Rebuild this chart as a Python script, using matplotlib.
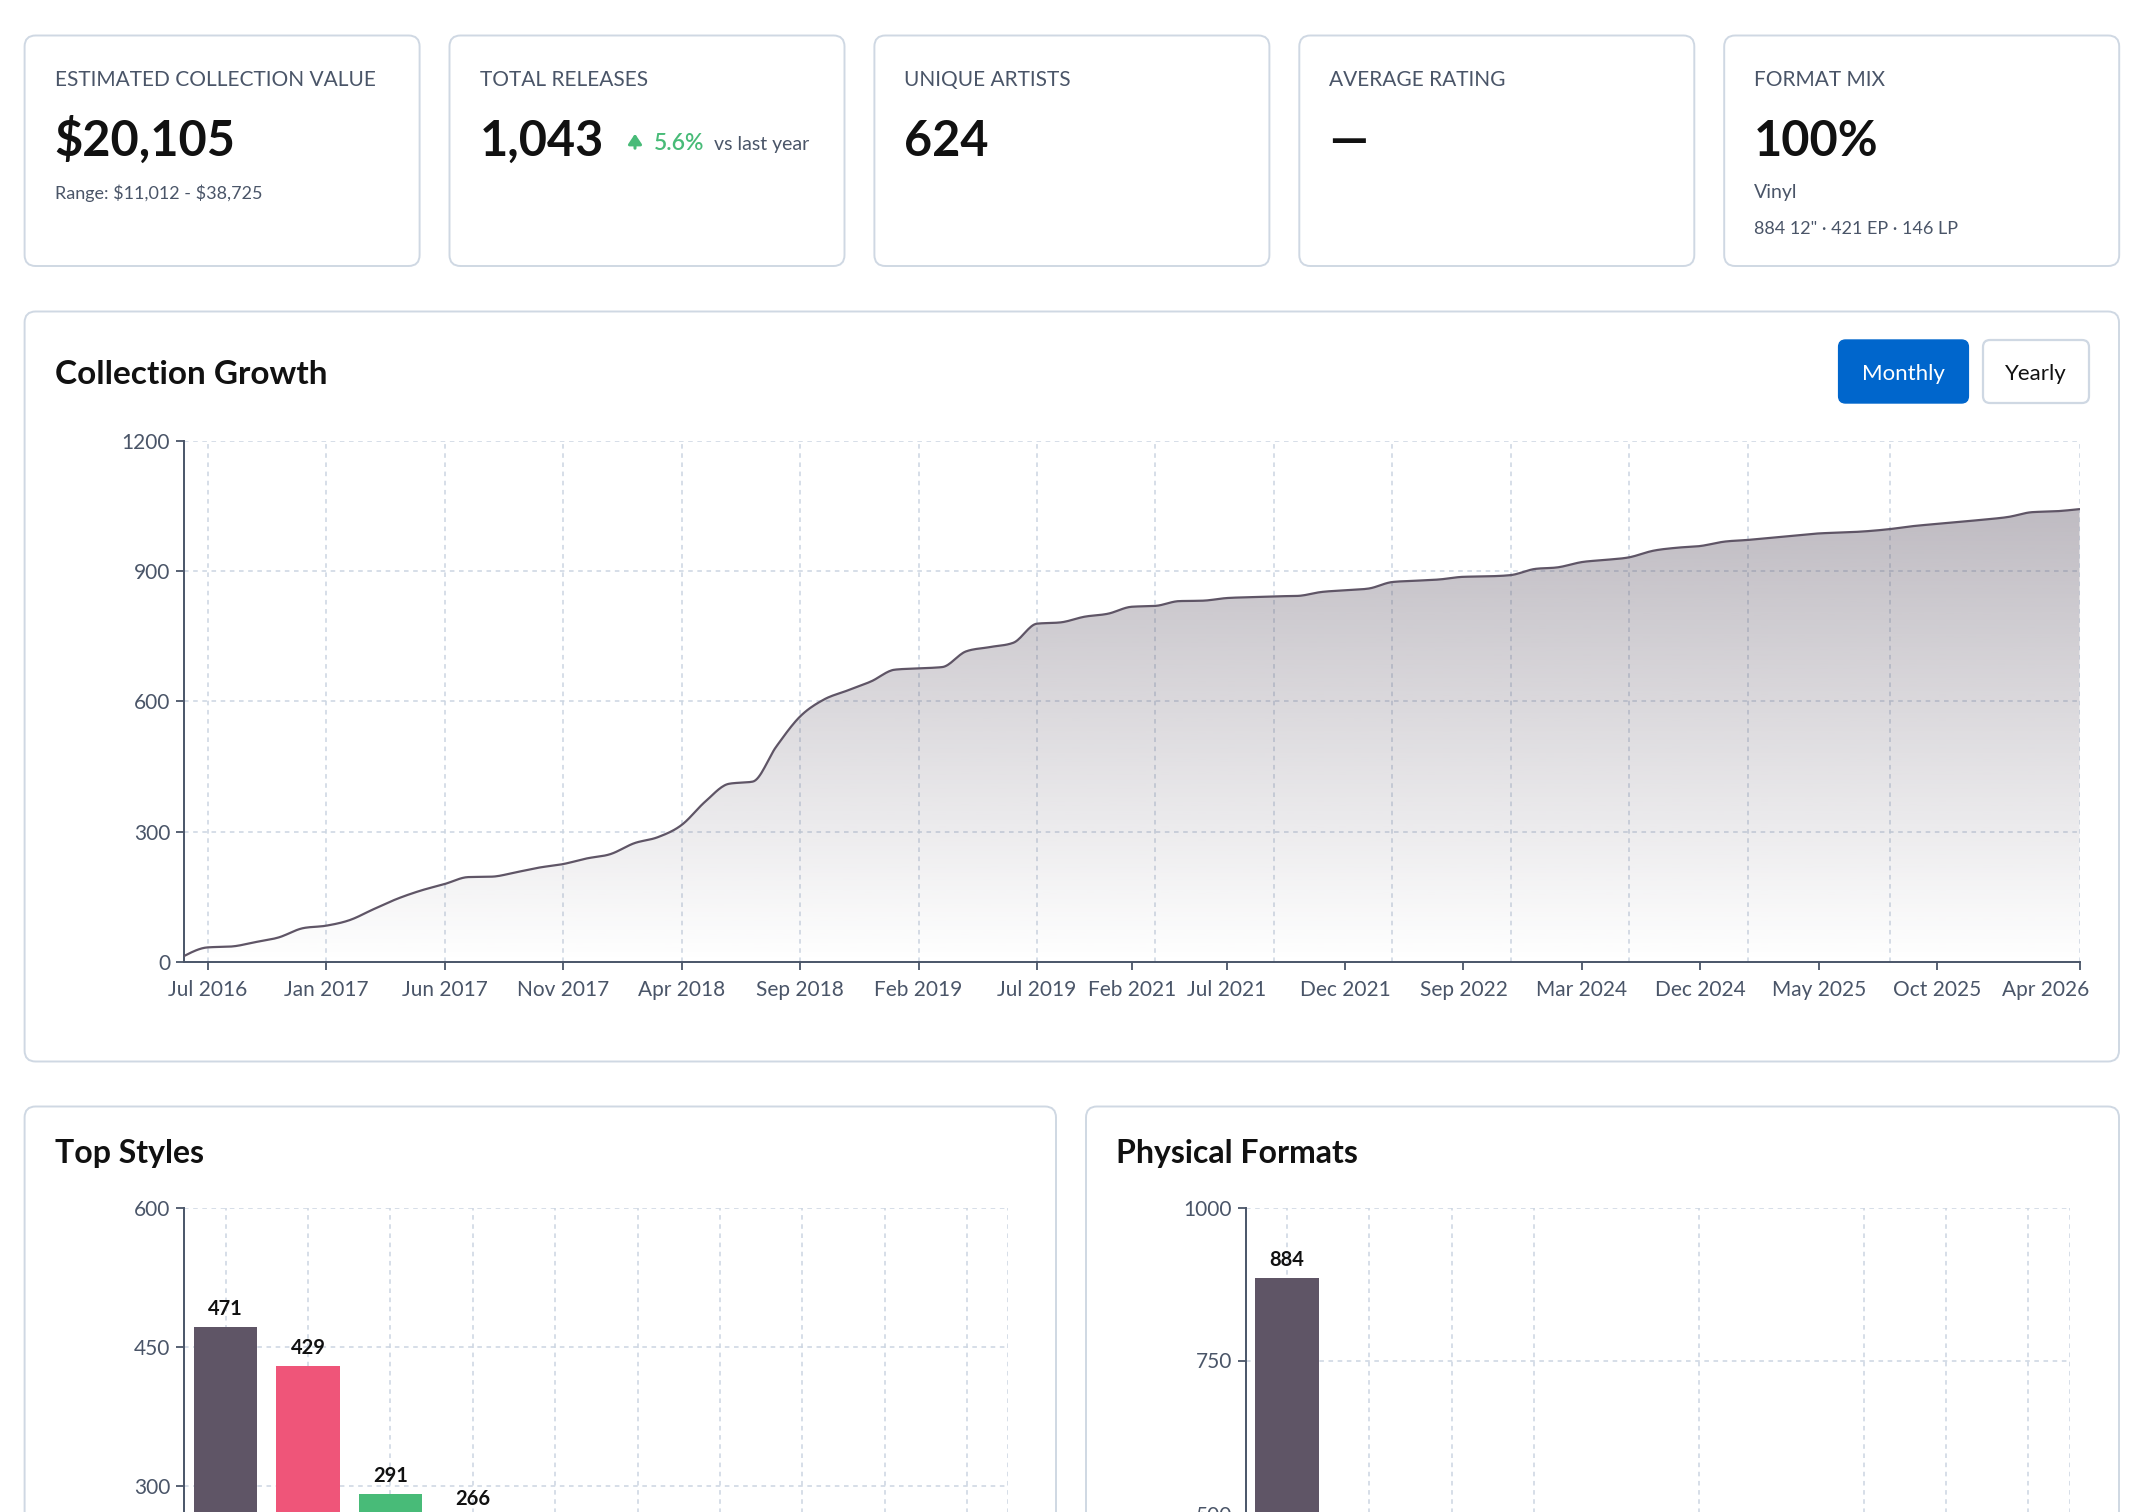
import numpy as np
import matplotlib
matplotlib.use("Agg")
import matplotlib.pyplot as plt
from matplotlib.patches import FancyBboxPatch, Polygon
from matplotlib.transforms import ScaledTranslation

plt.rcParams["font.family"] = ["Lato", "DejaVu Sans"]

W, H = 2142, 1512

# ---- data ----
months = [
    "Jun 2016", "Jul 2016", "Aug 2016", "Sep 2016", "Oct 2016", "Nov 2016",
    "Jan 2017", "Feb 2017", "Mar 2017", "Apr 2017", "May 2017", "Jun 2017",
    "Jul 2017", "Aug 2017", "Sep 2017", "Oct 2017", "Nov 2017", "Dec 2017",
    "Jan 2018", "Feb 2018", "Mar 2018", "Apr 2018", "May 2018", "Jun 2018",
    "Jul 2018", "Aug 2018", "Sep 2018", "Oct 2018", "Nov 2018", "Dec 2018",
    "Jan 2019", "Feb 2019", "Mar 2019", "Apr 2019", "May 2019", "Jun 2019",
    "Jul 2019", "Oct 2019", "Mar 2020", "Sep 2020",
    "Feb 2021", "Mar 2021", "Apr 2021", "May 2021", "Jul 2021", "Aug 2021",
    "Sep 2021", "Oct 2021", "Nov 2021", "Dec 2021",
    "Jan 2022", "Mar 2022", "May 2022", "Jul 2022", "Sep 2022",
    "Nov 2022", "Apr 2023", "Aug 2023", "Dec 2023", "Mar 2024",
    "Apr 2024", "Jun 2024", "Aug 2024", "Oct 2024", "Dec 2024",
    "Jan 2025", "Feb 2025", "Mar 2025", "Apr 2025", "May 2025",
    "Jun 2025", "Jul 2025", "Aug 2025", "Sep 2025", "Oct 2025",
    "Nov 2025", "Dec 2025", "Jan 2026", "Feb 2026", "Mar 2026", "Apr 2026",
]
total_releases = [
    13, 33, 35, 45, 56, 77, 83, 96, 121, 145, 164, 179, 195, 196, 206, 217, 225, 238, 248, 273, 287,
    315, 369, 410, 415, 496, 565, 604, 625, 646, 673, 676, 679, 715, 725, 735, 779, 782, 795, 802,
    818, 820, 831, 832, 838, 840, 842, 843, 852, 856, 860, 875, 878, 881, 887, 888, 891, 905, 909, 921,
    926, 932, 947, 954, 958, 968, 972, 977, 982, 987, 989, 992, 997, 1004, 1009, 1014, 1019, 1025,
    1036, 1038, 1043,
]
tick_months = ["Jul 2016", "Jan 2017", "Jun 2017", "Nov 2017", "Apr 2018", "Sep 2018",
               "Feb 2019", "Jul 2019", "Feb 2021", "Jul 2021", "Dec 2021", "Sep 2022",
               "Mar 2024", "Dec 2024", "May 2025", "Oct 2025", "Apr 2026"]
grid_months = ["Jul 2016", "Jan 2017", "Jun 2017", "Nov 2017", "Apr 2018", "Sep 2018",
               "Feb 2019", "Jul 2019", "Mar 2021", "Sep 2021", "Mar 2022", "Apr 2023",
               "Jun 2024", "Feb 2025", "Aug 2025", "Apr 2026"]

style_counts = [471, 429, 291, 266]
style_colors = ["#5f5566", "#ef5579", "#48bb78", "#f6ad55"]
n_style_slots = 10

format_names = ['12"']
format_counts = [884]
n_format_slots = 10

kpis = [
    ("ESTIMATED COLLECTION VALUE", r"\$20,105"),
    ("TOTAL RELEASES", "1,043"),
    ("UNIQUE ARTISTS", "624"),
    ("AVERAGE RATING", "\u2014"),
    ("FORMAT MIX", "100%"),
]

# ---- colors ----
LINE = "#5f5566"
GRID = "#cbd5e1"
AXIS = "#4a5568"
LABEL = "#4a5568"
DARK = "#111111"
GREEN = "#48bb78"
BORDER = "#cfd8e3"


def px_axes(fig, x0, y0, x1, y1):
    return fig.add_axes([x0 / W, 1 - y1 / H, (x1 - x0) / W, (y1 - y0) / H])


def card(ax, x0, y0, x1, y1):
    ax.add_patch(FancyBboxPatch((x0, y0), x1 - x0, y1 - y0,
                                boxstyle="round,pad=0,rounding_size=11",
                                fc="white", ec=BORDER, lw=1.4, zorder=1))


def monotone(y, n=16):
    # cubic hermite with monotone tangents (like d3 curveMonotoneX)
    y = np.asarray(y, float)
    d = np.diff(y)
    t = np.zeros_like(y)
    for i in range(1, len(y) - 1):
        s0, s1 = d[i - 1], d[i]
        p = (s0 + s1) / 2
        t[i] = (np.sign(s0) + np.sign(s1)) * min(abs(s0), abs(s1), 0.5 * abs(p))
    t[0] = (3 * d[0] - t[1]) / 2
    t[-1] = (3 * d[-1] - t[-2]) / 2
    xs, ys = [], []
    u = np.linspace(0, 1, n, endpoint=False)
    for i in range(len(y) - 1):
        h00 = 2 * u**3 - 3 * u**2 + 1
        h10 = u**3 - 2 * u**2 + u
        h01 = -2 * u**3 + 3 * u**2
        h11 = u**3 - u**2
        xs.append(i + u)
        ys.append(h00 * y[i] + h10 * t[i] + h01 * y[i + 1] + h11 * t[i + 1])
    xs.append([len(y) - 1])
    ys.append([y[-1]])
    return np.concatenate(xs), np.concatenate(ys)


def style_axis(ax):
    for s in ["top", "right"]:
        ax.spines[s].set_visible(False)
    for s in ["left", "bottom"]:
        ax.spines[s].set_color(AXIS)
        ax.spines[s].set_linewidth(1.4)
    ax.set_facecolor("none")
    ax.tick_params(colors=AXIS, labelcolor=LABEL, labelsize=15, length=6, width=1.3, pad=4)


fig = plt.figure(figsize=(W / 100, H / 100), dpi=100)
fig.patch.set_facecolor("white")

bg = fig.add_axes([0, 0, 1, 1], zorder=0)
bg.set_xlim(0, W)
bg.set_ylim(H, 0)
bg.axis("off")

# ---- KPI cards ----
card_w, card_gap = 395, 29.9
for k, (label, value) in enumerate(kpis):
    x0 = 24.6 + k * (card_w + card_gap)
    card(bg, x0, 35.5, x0 + card_w, 266)
    bg.text(x0 + 30, 86, label, fontsize=15, color=LABEL, va="baseline")
    bg.text(x0 + 30, 156, value, fontsize=35, fontweight="bold", color=DARK, va="baseline")

bg.text(54.6, 199.5, r"Range: \$11,012 - \$38,725", fontsize=13, color=LABEL, va="baseline")
bg.annotate("", xy=(635, 131), xytext=(635, 151),
            arrowprops=dict(arrowstyle="-|>,head_width=0.4,head_length=0.6", color=GREEN, lw=2.2))
bg.text(654, 150, "5.6%", fontsize=16.5, fontweight="semibold", color=GREEN, va="baseline")
bg.text(714, 150, "vs last year", fontsize=14, color=LABEL, va="baseline")
bg.text(1754, 198, "Vinyl", fontsize=14, color=LABEL, va="baseline")
bg.text(1754, 233.5, "884 12\" \u00b7 421 EP \u00b7 146 LP", fontsize=13, color=LABEL, va="baseline")

# ---- Collection Growth card ----
card(bg, 24.6, 311.5, 2119, 1061.5)
bg.text(54.6, 384, "Collection Growth", fontsize=24, fontweight="bold", color=DARK, va="baseline")
bg.add_patch(FancyBboxPatch((1838.6, 340), 129.8, 63, boxstyle="round,pad=0,rounding_size=7",
                            fc="#0066cc", ec="#0066cc", lw=1, zorder=2))
bg.text(1903.5, 374, "Monthly", fontsize=16, color="white", ha="center", va="center", zorder=3)
bg.add_patch(FancyBboxPatch((1983, 340), 106, 63, boxstyle="round,pad=0,rounding_size=7",
                            fc="white", ec=BORDER, lw=1.6, zorder=2))
bg.text(2036, 374, "Yearly", fontsize=16, color=DARK, ha="center", va="center", zorder=3)

ax = px_axes(fig, 184.0, 441, 2079.5, 961.7)
ax.set_zorder(1)
style_axis(ax)
ax.tick_params(axis="x", pad=7)
ax.set_xlim(0, len(months) - 1)
ax.set_ylim(0, 1200)
ax.set_yticks([0, 300, 600, 900, 1200])
for v in [300, 600, 900, 1200]:
    ax.axhline(v, color=GRID, lw=1.1, ls=(0, (3, 3)), zorder=1)
for m in grid_months:
    ax.axvline(months.index(m), color=GRID, lw=1.1, ls=(0, (3, 3)), zorder=1)
ax.set_xticks([months.index(m) for m in tick_months])
ax.set_xticklabels(tick_months)
last = ax.get_xticklabels()[-1]
last.set_ha("right")
last.set_transform(last.get_transform() + ScaledTranslation(0.095, 0, fig.dpi_scale_trans))

xs, ys = monotone(total_releases)
top = max(total_releases)
grad = np.zeros((256, 1, 4))
grad[..., :3] = matplotlib.colors.to_rgb(LINE)
grad[:, 0, 3] = np.linspace(0.4, 0.0, 256)
im = ax.imshow(grad, extent=[0, len(months) - 1, 0, top], aspect="auto",
               origin="upper", zorder=2, interpolation="bilinear")
poly = Polygon(np.column_stack([np.r_[xs, xs[-1], xs[0]], np.r_[ys, 0, 0]]),
               closed=True, fc="none", ec="none", transform=ax.transData)
ax.add_patch(poly)
im.set_clip_path(poly)
ax.plot(xs, ys, color=LINE, lw=1.6, zorder=3, solid_capstyle="round")

# ---- Top Styles ----
card(bg, 24.6, 1106.5, 1056, 1600)
bg.text(54.6, 1162.6, "Top Styles", fontsize=23, fontweight="bold", color=DARK, va="baseline")
ax2 = px_axes(fig, 184.4, 1207.5, 1008.3, 1764.7)
ax2.set_zorder(1)
style_axis(ax2)
ax2.set_xlim(-0.5, n_style_slots - 0.5)
ax2.set_ylim(0, 600)
ax2.set_yticks([300, 450, 600])
ax2.set_xticks([])
for v in [150, 300, 450, 600]:
    ax2.axhline(v, color=GRID, lw=1.1, ls=(0, (3, 3)), zorder=1)
for s in list(range(n_style_slots)) + [n_style_slots - 0.5]:
    ax2.axvline(s, color=GRID, lw=1.1, ls=(0, (3, 3)), zorder=1)
bars = ax2.bar(np.arange(len(style_counts)), style_counts, width=0.77, color=style_colors, zorder=2)
for b, v in zip(bars, style_counts):
    ax2.annotate(str(v), (b.get_x() + b.get_width() / 2, v), xytext=(0, 6),
                 textcoords="offset points", ha="center", va="bottom",
                 fontsize=14.5, fontweight="bold", color=DARK)

# ---- Physical Formats ----
card(bg, 1086, 1106.5, 2119, 1600)
bg.text(1116, 1162.6, "Physical Formats", fontsize=23, fontweight="bold", color=DARK, va="baseline")
ax3 = px_axes(fig, 1245.8, 1207.5, 2069.6, 1819.5)
ax3.set_zorder(1)
style_axis(ax3)
ax3.set_xlim(-0.5, n_format_slots - 0.5)
ax3.set_ylim(0, 1000)
ax3.set_yticks([500, 750, 1000])
ax3.set_xticks([])
for v in [250, 500, 750, 1000]:
    ax3.axhline(v, color=GRID, lw=1.1, ls=(0, (3, 3)), zorder=1)
for s in [0, 1, 2, 3, 5, 7, 8, 9, n_format_slots - 0.5]:
    ax3.axvline(s, color=GRID, lw=1.1, ls=(0, (3, 3)), zorder=1)
bars = ax3.bar(np.arange(len(format_counts)), format_counts, width=0.77, color=LINE, zorder=2)
for b, v in zip(bars, format_counts):
    ax3.annotate(str(v), (b.get_x() + b.get_width() / 2, v), xytext=(0, 6),
                 textcoords="offset points", ha="center", va="bottom",
                 fontsize=14.5, fontweight="bold", color=DARK)

fig.savefig("out.png", dpi=100, facecolor="white")
